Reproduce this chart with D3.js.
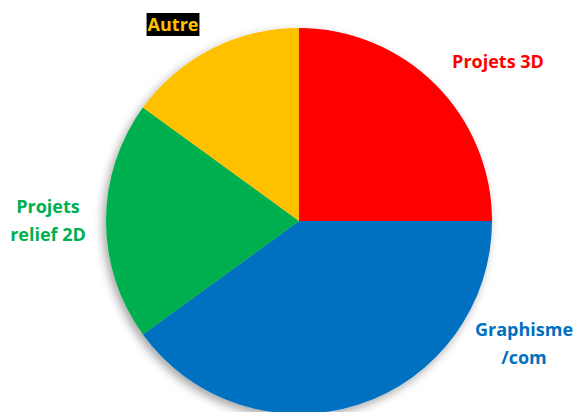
<!DOCTYPE html>
<html>
<head>
<meta charset="utf-8">
<script src="https://cdn.jsdelivr.net/npm/d3@7"></script>
<style>
  html, body { margin: 0; padding: 0; background: #fff; }
  svg { display: block; }
</style>
</head>
<body>
<svg id="mainsvg" width="576" height="412"></svg>
<script>
const categories = ['Projets 3D', 'Graphisme/com', 'Projets relief 2D', 'Autre']
const values = [25, 40, 20, 15]
const colors = ['#FF0000', '#0070C0', '#00B050', '#FFC000']

const width = 576, height = 412
const cx = 299, cy = 221, radius = 193

const svg = d3.select('#mainsvg')

const defs = svg.append('defs')
const shadow = defs.append('filter').attr('id', 'shadow')
  .attr('x', '-20%').attr('y', '-20%').attr('width', '140%').attr('height', '140%')
shadow.append('feDropShadow')
  .attr('dx', -3).attr('dy', 4).attr('stdDeviation', 5)
  .attr('flood-color', '#000').attr('flood-opacity', 0.35)

const pie = d3.pie().sort(null).value(d => d)
const arc = d3.arc().innerRadius(0).outerRadius(radius)

const g = svg.append('g').attr('transform', `translate(${cx},${cy})`)

g.append('g').attr('filter', 'url(#shadow)')
  .selectAll('path')
  .data(pie(values))
  .join('path')
  .attr('d', arc)
  .attr('fill', (d, i) => colors[i])

// labels
const labels = [
  {lines: ['Projets 3D'], x: 498, y: 68},
  {lines: ['Graphisme', '/com'], x: 524, y: 336},
  {lines: ['Projets', 'relief 2D'], x: 48, y: 213},
  {lines: ['Autre'], x: 173, y: 31}
]
const font = '"Open Sans", "Noto Sans", sans-serif'

labels.forEach((l, i) => {
  const t = svg.append('text')
    .attr('x', l.x).attr('y', l.y)
    .attr('text-anchor', 'middle')
    .attr('font-family', font)
    .attr('font-weight', 'bold')
    .attr('font-size', 18)
    .attr('fill', colors[i])
  l.lines.forEach((s, j) => {
    t.append('tspan').attr('x', l.x).attr('dy', j === 0 ? 0 : 28).text(s)
  })
  if (categories[i] === 'Autre') {
    const bb = t.node().getBBox()
    svg.insert('rect', () => t.node())
      .attr('x', bb.x - 1).attr('y', bb.y + 1)
      .attr('width', bb.width + 2).attr('height', bb.height - 1)
      .attr('fill', '#000')
  }
})
</script>
</body>
</html>
